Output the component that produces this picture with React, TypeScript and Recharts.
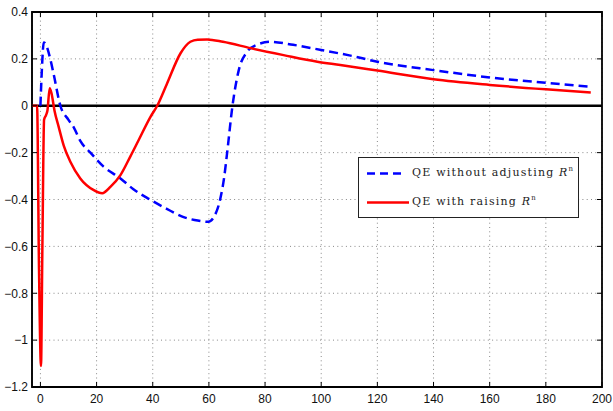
import { LineChart, Line, XAxis, YAxis, CartesianGrid, ReferenceLine, ReferenceArea, Legend } from 'recharts'

// axis ticks
const xTicks = [0, 20, 40, 60, 80, 100, 120, 140, 160, 180, 200]
const yTicks = [-1.2, -1, -0.8, -0.6, -0.4, -0.2, 0, 0.2, 0.4]

// QE without adjusting R^n (blue dashed)
const blueX = [0, 0.5, 1.2, 2, 3.6, 4.8, 7.1, 10, 12, 14.2, 17.8, 22.5, 28.5, 33, 39, 45, 51, 56, 59.8, 62, 64, 65.5, 66.5, 68.4, 70.6, 73.6, 77, 82, 90, 100, 110, 120, 140, 160, 180, 196]
const blueY = [0, 0.15, 0.27, 0.26, 0.195, 0.13, 0, -0.06, -0.095, -0.15, -0.2, -0.26, -0.31, -0.355, -0.4, -0.44, -0.475, -0.49, -0.495, -0.47, -0.4, -0.3, -0.2, 0, 0.15, 0.23, 0.26, 0.273, 0.26, 0.238, 0.215, 0.188, 0.152, 0.121, 0.098, 0.081]

// QE with raising R^n (red solid)
const redX = [-3, -1.2, -0.5, 0.2, 0.7, 1.3, 2, 2.5, 3.3, 4, 5, 6.5, 8.3, 10.7, 14.2, 19, 22, 25, 28.5, 32, 35, 39.2, 41.6, 45, 49.9, 53.4, 56, 59.4, 65, 75, 86.6, 98.6, 106.8, 120, 140, 160, 180, 196]
const redY = [0, 0, -0.7, -1.11, -0.6, -0.06, -0.04, -0.02, 0.075, 0.05, -0.02, -0.09, -0.17, -0.24, -0.31, -0.36, -0.373, -0.345, -0.296, -0.217, -0.146, -0.047, 0, 0.092, 0.224, 0.273, 0.282, 0.283, 0.273, 0.245, 0.216, 0.188, 0.174, 0.15, 0.113, 0.089, 0.07, 0.057]

const blueData = blueX.map((x, i) => ({ x, y: blueY[i] }))
const redData = redX.map((x, i) => ({ x, y: redY[i] }))

const W = 613
const H = 411
const M = { top: 12, right: 11, bottom: 0, left: 0 }
const PLOT_TOP = M.top
const PLOT_RIGHT = W - M.right

const font = '"Liberation Sans", Arial, sans-serif'
const fmt = (v: number) => (v < 0 ? '\u2212' + String(Math.abs(v)) : String(v))

// ticks point inwards on all four sides, matlab style
function BottomTick({ x, y, payload }: any) {
  return (
    <g>
      <line x1={x} x2={x} y1={y - 7} y2={y - 12} stroke="#000" />
      <line x1={x} x2={x} y1={PLOT_TOP} y2={PLOT_TOP + 5} stroke="#000" />
      <text x={x} y={y} dy="0.75em" textAnchor="middle" fontFamily={font} fontSize={12} fill="#111">
        {fmt(payload.value)}
      </text>
    </g>
  )
}

function LeftTick({ x, y, payload }: any) {
  return (
    <g>
      <line x1={x + 4} x2={x + 9} y1={y} y2={y} stroke="#000" />
      <line x1={PLOT_RIGHT - 5} x2={PLOT_RIGHT} y1={y} y2={y} stroke="#000" />
      <text x={x} y={y} dy="0.36em" textAnchor="end" fontFamily={font} fontSize={12} fill="#111">
        {fmt(payload.value)}
      </text>
    </g>
  )
}

function LegendBox() {
  const text = { fontFamily: '"DejaVu Serif", serif', fontSize: 11, letterSpacing: 1.2, color: '#222' }
  return (
    <div style={{ width: 219, height: 59, border: '1.5px solid #222', background: '#fff', position: 'relative' }}>
      <svg width={50} height={59} style={{ position: 'absolute', left: 0, top: 0 }}>
        <line x1={8} y1={15.5} x2={44} y2={15.5} stroke="#0000ff" strokeWidth={2.5} strokeDasharray="8 5" />
        <line x1={8} y1={44.5} x2={50} y2={44.5} stroke="#ff0000" strokeWidth={2.5} />
      </svg>
      <div style={{ ...text, position: 'absolute', left: 53, top: 7, whiteSpace: 'nowrap' }}>
        QE without adjusting <i>R</i><sup style={{ fontSize: 7 }}>n</sup>
      </div>
      <div style={{ ...text, position: 'absolute', left: 53, top: 36, whiteSpace: 'nowrap' }}>
        QE with raising <i>R</i><sup style={{ fontSize: 7 }}>n</sup>
      </div>
    </div>
  )
}

export default function App() {
  return (
    <div style={{ position: 'absolute', left: 0, top: 0, background: '#fff' }}>
      <LineChart width={W} height={H} margin={M}>
        <CartesianGrid stroke="#888" strokeDasharray="1 3.3" />
        <XAxis
          dataKey="x"
          type="number"
          domain={[-3, 200]}
          ticks={xTicks}
          allowDataOverflow
          height={24}
          tickSize={0}
          tickMargin={7}
          tickLine={false}
          tick={<BottomTick />}
          interval={0}
          stroke="#000"
        />
        <YAxis
          type="number"
          domain={[-1.2, 0.4]}
          ticks={yTicks}
          allowDataOverflow
          width={32}
          tickSize={0}
          tickMargin={4}
          tickLine={false}
          tick={<LeftTick />}
          interval={0}
          stroke="#000"
        />
        {/* axes box */}
        <ReferenceArea x1={-3} x2={200} y1={-1.2} y2={0.4} fill="none" stroke="#000" strokeWidth={1.8} />
        <ReferenceLine y={0} stroke="#000" strokeWidth={2.6} />
        <Line
          data={blueData}
          dataKey="y"
          type="monotone"
          stroke="#0000ff"
          strokeWidth={2.5}
          strokeDasharray="9 5"
          dot={false}
          isAnimationActive={false}
          name="QE without adjusting R^n"
        />
        <Line
          data={redData}
          dataKey="y"
          type="monotone"
          stroke="#ff0000"
          strokeWidth={2.5}
          dot={false}
          isAnimationActive={false}
          name="QE with raising R^n"
        />
        <Legend
          layout="vertical"
          align="center"
          verticalAlign="middle"
          content={() => <LegendBox />}
          wrapperStyle={{ left: 358, top: 157, width: 222, height: 62 }}
        />
      </LineChart>
    </div>
  )
}
